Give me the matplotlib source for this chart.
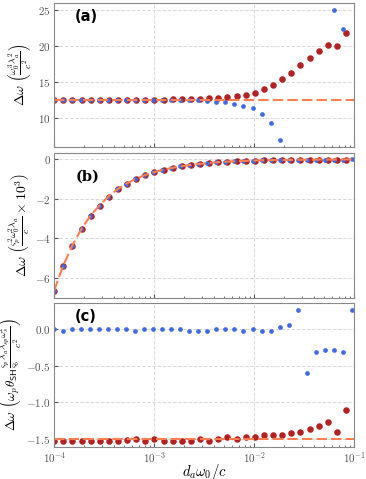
import numpy as np
import matplotlib
matplotlib.use("Agg")
import matplotlib.pyplot as plt

plt.rcParams['font.family'] = 'serif'
plt.rcParams['font.serif'] = ['cmr10', 'DejaVu Serif']
plt.rcParams['mathtext.fontset'] = 'cm'
plt.rcParams['axes.formatter.use_mathtext'] = True
plt.rcParams['axes.unicode_minus'] = True

# sampling grids (log10 of d_a w0 / c)
x_red = 10 ** np.linspace(-4, -1.083, 33)
x_blue = 10 ** np.linspace(-4, -1.026, 34)

# panel (a)
a_red = [12.57] * 13 + [12.62, 12.62, 12.66, 12.71, 12.75, 12.84, 12.89, 13.03, 13.21,
                        13.52, 13.98, 14.58, 15.36, 16.28, 17.29, 18.34, 19.30, 20.18,
                        20.04, 21.70]
a_blue = [12.57] * 16 + [12.52, 12.39, 12.29, 12.20, 12.02, 11.74, 11.38, 10.64, 9.40,
                         7.02, np.nan, np.nan, np.nan, np.nan, np.nan, 25.0, 22.34, np.nan]
a_theory = 4 * np.pi

# panel (b)
b_vals = [-6.66, -5.39, -4.38, -3.55, -2.87, -2.35, -1.89, -1.52, -1.24, -1.00, -0.81,
          -0.66, -0.54, -0.44, -0.36, -0.29, -0.24, -0.19, -0.15, -0.12, -0.10, -0.08,
          -0.065, -0.05, -0.04, -0.035, -0.03, -0.02, -0.02, -0.015, -0.01, -0.01,
          -0.01, -0.005]
b_red = b_vals[:33]
b_blue = b_vals

# panel (c)
c_red = [-1.53] * 8 + [-1.52, -1.50, -1.53, -1.50, -1.53, -1.53, -1.53, -1.53, -1.50,
                       -1.53, -1.50, -1.475, -1.50, -1.475, -1.475, -1.45, -1.45, -1.45,
                       -1.425, -1.40, -1.37, -1.32, -1.27, -1.40, -1.107]
c_blue = [0, -0.027, 0, 0, 0, 0, 0, 0, 0, -0.027, 0, 0, 0, 0, 0, -0.027, -0.027, -0.027,
          0, 0, 0, -0.027, 0, -0.027, -0.027, 0.03, 0.055, 0.264, -0.605, -0.319,
          -0.292, -0.292, -0.319, 0.264]
c_theory = -1.5

red = '#b22222'
blue = '#4169e1'
dash = '#ff7f50'

fig = plt.figure(figsize=(3.66, 4.79), dpi=100)
L, W = 0.148, 0.82
ax_a = fig.add_axes([L, 0.6931, W, 0.3006])
ax_b = fig.add_axes([L, 0.3779, W, 0.3027], sharex=ax_a)
ax_c = fig.add_axes([L, 0.0668, W, 0.3006], sharex=ax_a)

for ax in (ax_a, ax_b, ax_c):
    ax.set_xscale('log')
    ax.grid(True, which='major', color='#d8d8d8', linestyle='--', linewidth=0.7)
    for s in ax.spines.values():
        s.set_color('#888888')
    ax.tick_params(colors='#555555', labelsize=8, direction='in', which='both')
    ax.tick_params(which='major', length=3, pad=2.5)
    ax.tick_params(which='minor', length=1.5)

ax_a.plot(x_red, a_red, 'o', color=red, ms=4.7, mew=0)
ax_a.plot(x_blue, a_blue, 'o', color=blue, ms=3.4, mew=0)
ax_a.axhline(a_theory, color=dash, lw=1.5, dashes=(5, 2))
ax_a.set_ylim(6.05, 25.9)
ax_a.set_yticks([10, 15, 20, 25])
ax_a.set_ylabel(r'$\Delta\omega\ \left(\frac{\omega_0^3\lambda_a^2}{c^2}\right)$', fontsize=10,
                labelpad=2)
ax_a.text(0.07, 0.875, '(a)', transform=ax_a.transAxes, fontsize=10.5, fontweight='bold',
          family='DejaVu Sans')

ax_b.plot(x_red, b_red, 'o', color=red, ms=4.7, mew=0)
ax_b.plot(x_blue, b_blue, 'o', color=blue, ms=3.4, mew=0)
ax_b.plot(x_blue, b_blue, color=dash, lw=1.5, dashes=(5, 2))
ax_b.set_ylim(-7.03, 0.32)
ax_b.set_yticks([-6, -4, -2, 0])
ax_b.set_ylabel(r'$\Delta\omega\ \left(\frac{\varsigma_p^2\omega_0^2\lambda_a}{c}\times 10^3\right)$',
                fontsize=10, labelpad=2)
ax_b.text(0.07, 0.81, '(b)', transform=ax_b.transAxes, fontsize=10.5, fontweight='bold',
          family='DejaVu Serif')

ax_c.plot(x_red, c_red, 'o', color=red, ms=4.7, mew=0)
ax_c.plot(x_blue, c_blue, 'o', color=blue, ms=3.4, mew=0)
ax_c.axhline(c_theory, color=dash, lw=1.5, dashes=(5, 2))
ax_c.set_ylim(-1.61, 0.355)
ax_c.set_yticks([-1.5, -1.0, -0.5, 0.0])
ax_c.set_ylabel(r'$\Delta\omega\ \left(\omega_p\theta_{\mathsf{SH}}\frac{\varsigma_p}{\varsigma_b}'
                r'\frac{\lambda_a\lambda_{sp}\omega_s^2}{c^2}\right)$', fontsize=9.5, labelpad=1)
ax_c.text(0.07, 0.875, '(c)', transform=ax_c.transAxes, fontsize=10.5, fontweight='bold',
          family='DejaVu Sans')
ax_c.set_xlabel(r'$d_a\omega_0/c$', fontsize=10.5, labelpad=-2)

ax_c.set_xlim(1e-4, 1e-1)
plt.setp(ax_a.get_xticklabels(), visible=False)
plt.setp(ax_b.get_xticklabels(), visible=False)

fig.savefig('out.png', dpi=100)
